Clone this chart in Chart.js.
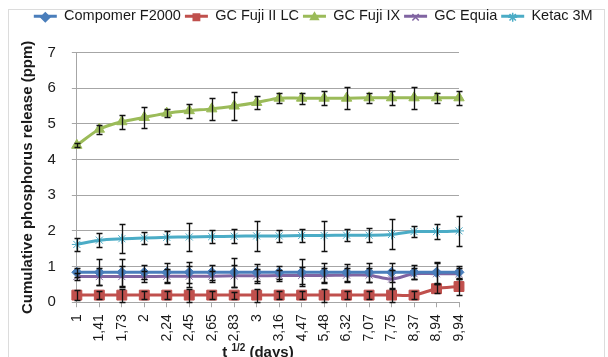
<!DOCTYPE html>
<html>
<head>
<meta charset="utf-8">
<script src="https://cdn.jsdelivr.net/npm/chart.js@4.4.1/dist/chart.umd.min.js"></script>
<style>
    html, body { margin: 0; padding: 0; background: #fff; }
    canvas { display: block; }
</style>
</head>
<body>
<canvas id="releaseChart" width="608" height="357"></canvas>
<script>
const days = ['1', '1,41', '1,73', '2', '2,24', '2,45', '2,65', '2,83', '3', '3,16',
    '4,47', '5,48', '6,32', '7,07', '7,75', '8,37', '8,94', '9,94'];

const compomer = [0.84, 0.84, 0.84, 0.84, 0.84, 0.84, 0.84, 0.84, 0.84, 0.84, 0.84, 0.84, 0.84, 0.84, 0.84, 0.84, 0.84, 0.84];
const compomerErr = [0.12, 0.36, 0.38, 0.2, 0.26, 0.3, 0.21, 0.4, 0.24, 0.19, 0.38, 0.26, 0.24, 0.26, 0.26, 0.2, 0.3, 0.19];

const fujiIILC = [0.2, 0.2, 0.2, 0.2, 0.2, 0.2, 0.2, 0.2, 0.2, 0.2, 0.2, 0.2, 0.2, 0.2, 0.2, 0.2, 0.38, 0.44];
const fujiIILCErr = [0.15, 0.12, 0.18, 0.12, 0.12, 0.18, 0.12, 0.1, 0.18, 0.12, 0.12, 0.18, 0.12, 0.12, 0.18, 0.12, 0.12, 0.25];

const fujiIX = [4.4, 4.85, 5.06, 5.18, 5.3, 5.37, 5.42, 5.5, 5.6, 5.72, 5.72, 5.72, 5.72, 5.73, 5.73, 5.73, 5.73, 5.73];
const fujiIXErr = [0.05, 0.13, 0.2, 0.3, 0.12, 0.2, 0.3, 0.4, 0.19, 0.14, 0.15, 0.2, 0.3, 0.14, 0.19, 0.3, 0.14, 0.19];

const equia = [0.72, 0.72, 0.72, 0.72, 0.73, 0.73, 0.73, 0.74, 0.74, 0.75, 0.75, 0.75, 0.76, 0.76, 0.65, 0.8, 0.8, 0.8];
const equiaErr = [0.1, 0.25, 0.3, 0.15, 0.2, 0.3, 0.15, 0.3, 0.2, 0.15, 0.25, 0.2, 0.2, 0.2, 0.25, 0.15, 0.3, 0.15];

const ketac = [1.62, 1.74, 1.78, 1.8, 1.82, 1.83, 1.84, 1.85, 1.86, 1.86, 1.87, 1.87, 1.88, 1.88, 1.9, 1.98, 1.98, 2.0];
const ketacErr = [0.19, 0.2, 0.4, 0.18, 0.19, 0.4, 0.19, 0.2, 0.42, 0.16, 0.19, 0.42, 0.17, 0.2, 0.42, 0.15, 0.22, 0.42];

const colors = {
    blue: '#4a7ebb',
    red: '#c0504d',
    green: '#9bbb59',
    purple: '#8064a2',
    cyan: '#4bacc6',
    grid: '#a6a6a6',
    text: '#1a1a1a'
};
const family = '"Liberation Sans", Arial, sans-serif';

function series(label, data, errors, color, pointStyle, radius) {
    return {
        label: label,
        data: data,
        errors: errors,
        borderColor: color,
        backgroundColor: color,
        pointBackgroundColor: color,
        pointBorderColor: color,
        pointStyle: pointStyle,
        pointRadius: radius,
        pointBorderWidth: 1,
        borderWidth: 3,
        tension: 0.3
    };
}

// black error bars with caps, drawn from each dataset's errors array
const errorBars = {
    id: 'errorBars',
    afterDatasetsDraw(chart) {
        const ctx = chart.ctx;
        const y = chart.scales.y;
        ctx.save();
        ctx.strokeStyle = '#111';
        ctx.lineWidth = 1.3;
        chart.data.datasets.forEach((ds, i) => {
            const meta = chart.getDatasetMeta(i);
            meta.data.forEach((pt, j) => {
                const e = ds.errors[j];
                const top = Math.round(y.getPixelForValue(ds.data[j] + e)) + 0.5;
                const bot = Math.round(y.getPixelForValue(ds.data[j] - e)) + 0.5;
                const x = Math.round(pt.x) + 0.5;
                ctx.beginPath();
                ctx.moveTo(x, top); ctx.lineTo(x, bot);
                ctx.moveTo(x - 3, top); ctx.lineTo(x + 3, top);
                ctx.moveTo(x - 3, bot); ctx.lineTo(x + 3, bot);
                ctx.stroke();
            });
        });
        ctx.restore();
    }
};

// marker on top of each legend line, plus room under the legend
const legendMarkers = {
    id: 'legendMarkers',
    beforeInit(chart) {
        const fit = chart.legend.fit;
        chart.legend.fit = function () {
            fit.bind(chart.legend)();
            this.height += 19;
        };
    },
    afterDraw(chart) {
        const legend = chart.legend;
        const ctx = chart.ctx;
        const boxWidth = legend.options.labels.boxWidth;
        const fontSize = legend.options.labels.font.size;
        legend.legendHitBoxes.forEach((box, i) => {
            const ds = chart.data.datasets[i];
            ctx.save();
            ctx.fillStyle = ds.pointBackgroundColor;
            ctx.strokeStyle = ds.pointBorderColor;
            ctx.lineWidth = 1.5;
            Chart.helpers.drawPoint(ctx, {
                pointStyle: ds.pointStyle, radius: 4.5, rotation: 0, borderWidth: 1.5
            }, box.left + boxWidth / 2, box.top + fontSize / 2 + 1);
            ctx.restore();
        });
    }
};

// frame and the x title with its superscript
const decorations = {
    id: 'decorations',
    beforeDraw(chart) {
        const ctx = chart.ctx;
        ctx.save();
        ctx.strokeStyle = '#dcdcdc';
        ctx.lineWidth = 1;
        ctx.strokeRect(8.5, 9.5, 596, 360);
        ctx.restore();
    },
    afterDraw(chart) {
        const ctx = chart.ctx;
        const area = chart.chartArea;
        const xs = chart.scales.x;
        const cx = (area.left + area.right) / 2 - 10;
        const cy = xs.bottom + 4;
        const big = 'bold 15px ' + family;
        const small = 'bold 10px ' + family;
        ctx.save();
        ctx.fillStyle = colors.text;
        ctx.textBaseline = 'middle';
        ctx.font = big;
        const w1 = ctx.measureText('t ').width;
        const w3 = ctx.measureText(' (days)').width;
        ctx.font = small;
        const w2 = ctx.measureText('1/2').width;
        let x = cx - (w1 + w2 + w3) / 2;
        ctx.font = big;
        ctx.fillText('t ', x, cy);
        x += w1;
        ctx.font = small;
        ctx.fillText('1/2', x, cy - 4);
        x += w2;
        ctx.font = big;
        ctx.fillText(' (days)', x, cy);
        ctx.restore();
    }
};

new Chart(document.getElementById('releaseChart'), {
    type: 'line',
    data: {
        labels: days,
        datasets: [
            series('Compomer F2000', compomer, compomerErr, colors.blue, 'rectRot', 5),
            series('GC Fuji II LC', fujiIILC, fujiIILCErr, colors.red, 'rect', 7),
            series('GC Fuji IX', fujiIX, fujiIXErr, colors.green, 'triangle', 6),
            series('GC Equia', equia, equiaErr, colors.purple, 'crossRot', 5),
            series('Ketac 3M', ketac, ketacErr, colors.cyan, 'star', 5)
        ]
    },
    options: {
        responsive: false,
        animation: false,
        devicePixelRatio: 1,
        layout: { padding: { left: 18.5, top: 5, bottom: 8.5, right: 0 } },
        plugins: {
            legend: {
                position: 'top',
                labels: {
                    color: colors.text,
                    font: { size: 14.5, family: family },
                    boxWidth: 23,
                    boxHeight: 3,
                    padding: 4,
                    generateLabels: chart =>
                        Chart.defaults.plugins.legend.labels.generateLabels(chart)
                            .map(l => Object.assign(l, { lineWidth: 0 }))
                }
            },
            tooltip: { enabled: false }
        },
        scales: {
            x: {
                offset: false,
                grid: { drawOnChartArea: false, drawTicks: true, tickLength: 5, color: colors.grid },
                border: { color: colors.grid },
                ticks: {
                    color: colors.text,
                    font: { size: 14, family: family },
                    minRotation: 90,
                    maxRotation: 90,
                    autoSkip: false,
                    padding: 7
                }
            },
            y: {
                min: 0,
                max: 7,
                grid: { color: colors.grid, tickLength: 5 },
                border: { color: colors.grid },
                ticks: {
                    stepSize: 1,
                    color: colors.text,
                    font: { size: 15, family: family },
                    padding: 16
                },
                title: {
                    display: true,
                    text: 'Cumulative phosphorus release (ppm)',
                    color: colors.text,
                    font: { size: 15, weight: 'bold', family: family },
                    padding: { top: 0, bottom: -5 }
                }
            },
            // empty right axis keeps the plot narrow like the original
            yRight: {
                position: 'right',
                display: true,
                grid: { display: false },
                border: { display: false },
                ticks: { display: false },
                afterFit(scale) { scale.width = 149; }
            }
        }
    },
    plugins: [errorBars, legendMarkers, decorations]
});
</script>
</body>
</html>
